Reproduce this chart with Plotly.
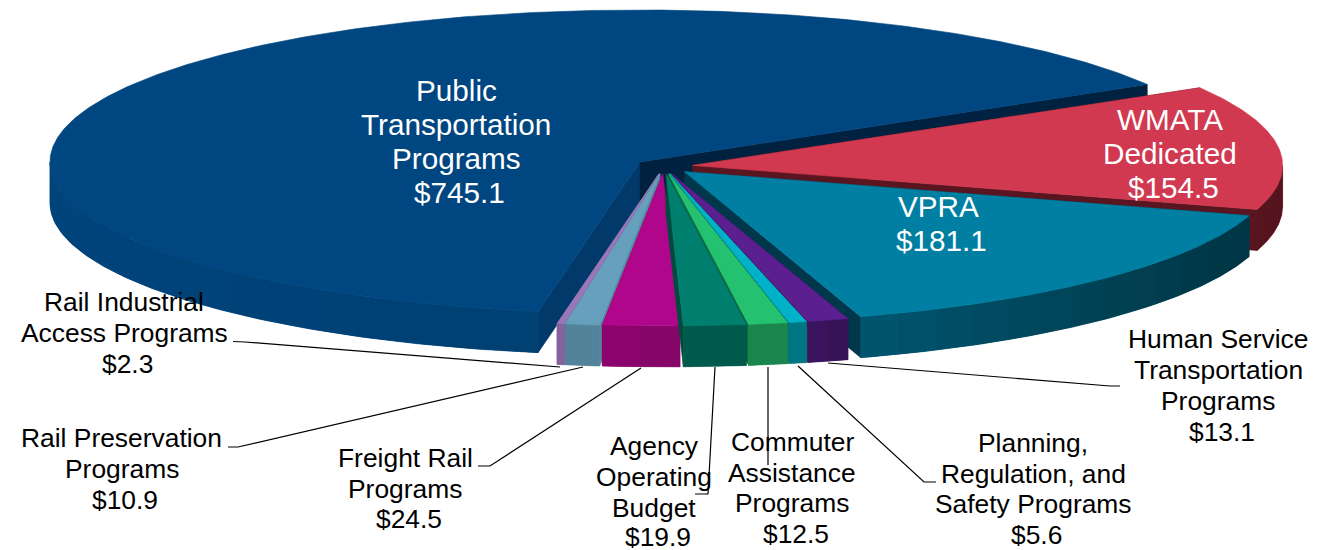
import math
import plotly.graph_objects as go

# ---- data (clockwise order, starting with WMATA) ----
categories = ["WMATA Dedicated", "VPRA", "Human Service Transportation Programs",
              "Planning, Regulation, and Safety Programs", "Commuter Assistance Programs",
              "Agency Operating Budget", "Freight Rail Programs", "Rail Preservation Programs",
              "Rail Industrial Access Programs", "Public Transportation Programs"]
values = [154.5, 181.1, 13.1, 5.6, 12.5, 19.9, 24.5, 10.9, 2.3, 745.1]

# ---- styles ----
top_colors = ["#d0394f", "#007fa3", "#5b1f90", "#00b2c8", "#24c270", "#007f6e", "#b0068c", "#66a0bc", "#9a77b8", "#004680"]
wall_left = ["#56141f", "#00566f", "#3c1560", "#007a88", "#1f8a54", "#005c4e", "#8e0470", "#528299", "#87639f", "#00447c"]
wall_right = ["#56141f", "#003544", "#351253", "#007080", "#178048", "#005a4b", "#820566", "#52849b", "#84609e", "#004072"]
radial_colors = ["#5a1620", "#00374a", "#3a1458", "#006d7a", "#0f6a3f", "#004a3e", "#880568", "#56899f", "#7f62a0", "#00396a"]
radial_end_colors = {9: "#00213f"}
draw_order = [9, 0, 1, 8, 7, 6, 2, 3, 4, 5]

# ---- pie projection ----
START = 30.7
CX, CY, RX, RY = 663.8, 166.3, 590, 152
EX, EY = 29, 7.6
DEPTH = 41

# ---- label layout ----
label_lines = [["WMATA", "Dedicated"], ["VPRA"], ["Human Service", "Transportation", "Programs"],
               ["Planning,", "Regulation, and", "Safety Programs"], ["Commuter", "Assistance", "Programs"],
               ["Agency", "Operating", "Budget"], ["Freight Rail", "Programs"], ["Rail Preservation", "Programs"],
               ["Rail Industrial", "Access Programs"], ["Public", "Transportation", "Programs"]]
label_x = [1170, 938, 1218, 1033, 792, 654, 405, 121.5, 124, 456]
label_y = [[119.5, 153.5, 187.5], [206, 240], [339, 370, 401, 431.5], [443, 473.5, 504, 534.5], [442, 473, 503, 533.5],
           [446, 477, 507.5, 537], [458, 489, 519], [438, 469, 500], [302, 333, 364], [90.5, 124.5, 158, 192]]
label_inside = [True, True, False, False, False, False, False, False, False, True]
VALUE_DX = 3.5
leaders = [
    [(233, 341.5), (245, 342), (560, 367)],
    [(228, 447), (238, 447), (583, 367)],
    [(478, 466), (490, 466), (641, 368)],
    [(715, 367), (708, 494), (695, 494)],
    [(768, 367), (768, 465)],
    [(798, 366), (924, 482), (936, 482)],
    [(828, 363), (1110, 386), (1120, 386)],
]


def mix(c1, c2, f):
    a = [int(c1[i:i + 2], 16) for i in (1, 3, 5)]
    b = [int(c2[i:i + 2], 16) for i in (1, 3, 5)]
    return "#%02x%02x%02x" % tuple(round(p + (q - p) * f) for p, q in zip(a, b))


def rim(t, ox, oy, dz=0):
    r = math.radians(t)
    return ox + RX * math.cos(r), oy - RY * math.sin(r) + dz


def polygon(fig, pts, color, edge=0.6):
    xs = [p[0] for p in pts] + [pts[0][0]]
    ys = [p[1] for p in pts] + [pts[0][1]]
    fig.add_trace(go.Scatter(x=xs, y=ys, mode="lines", fill="toself", fillcolor=color,
                             line=dict(color=color, width=edge), hoverinfo="skip", showlegend=False))


total = sum(values)
spans = [v / total * 360 for v in values]
angles = []
t = START
for s in spans:
    angles.append((t, t - s))   # clockwise
    t -= s

fig = go.Figure()
for i in draw_order:
    t0, t1 = angles[i]
    mid = math.radians((t0 + t1) / 2)
    ox = CX + EX * math.cos(mid)
    oy = CY - EY * math.sin(mid)
    apex = (ox, oy)
    apex_low = (ox, oy + DEPTH)
    # radial faces
    for tt, col in ((t0, radial_colors[i]), (t1, radial_end_colors.get(i, radial_colors[i]))):
        a, b = rim(tt, ox, oy), rim(tt, ox, oy, DEPTH)
        polygon(fig, [apex, a, b, apex_low], col)
    # outer wall, front half only: an underlay plus shaded strips without edges
    l2, h2 = max(t1, -180), min(t0, 0)
    if h2 > l2:
        m = max(2, math.ceil((h2 - l2) * 2))
        steps = [l2 + (h2 - l2) * q / m for q in range(m + 1)]
        polygon(fig, [rim(s, ox, oy) for s in steps] + [rim(s, ox, oy, DEPTH) for s in reversed(steps)],
                mix(wall_left[i], wall_right[i], 0.5))
        n = max(1, math.ceil((h2 - l2) / 4))
        xs_lim = (rim(l2, ox, oy)[0], rim(h2, ox, oy)[0])
        for j in range(n):
            ta = l2 + (h2 - l2) * j / n
            tb = l2 + (h2 - l2) * (j + 1) / n
            steps = [ta + (tb - ta) * q / 4 for q in range(5)]
            pts = [rim(s, ox, oy) for s in steps] + [rim(s, ox, oy, DEPTH) for s in reversed(steps)]
            xa = rim((ta + tb) / 2, ox, oy)[0]
            f = (xa - min(xs_lim)) / max(1, abs(xs_lim[0] - xs_lim[1]))
            polygon(fig, pts, mix(wall_left[i], wall_right[i], f), edge=0)
    # top face
    n = max(4, int((t0 - t1) * 2))
    pts = [apex] + [rim(t0 + (t1 - t0) * q / n, ox, oy) for q in range(n + 1)]
    polygon(fig, pts, top_colors[i])

for path in leaders:
    fig.add_trace(go.Scatter(x=[p[0] for p in path], y=[p[1] for p in path], mode="lines",
                             line=dict(color="#000000", width=1.2), hoverinfo="skip", showlegend=False))

for i, v in enumerate(values):
    lines = label_lines[i] + [f"${v:.1f}"]
    for k, (line, y) in enumerate(zip(lines, label_y[i])):
        dx = VALUE_DX if k == len(lines) - 1 else 0
        fig.add_annotation(x=label_x[i] + dx, y=y, text=line, showarrow=False, xanchor="center", yanchor="middle",
                           font=dict(family="Liberation Sans, Arial, sans-serif",
                                     size=29.7 if label_inside[i] else 26.4,
                                     color="#ffffff" if label_inside[i] else "#000000"))

fig.update_layout(width=1326, height=550, margin=dict(l=0, r=0, t=0, b=0),
                  paper_bgcolor="#ffffff", plot_bgcolor="#ffffff", showlegend=False,
                  xaxis=dict(range=[0, 1326], visible=False, fixedrange=True),
                  yaxis=dict(range=[550, 0], visible=False, fixedrange=True))
fig.write_html("out.html", config={"displayModeBar": False},
               post_script="document.body.style.margin='0';document.body.style.overflow='hidden';")
